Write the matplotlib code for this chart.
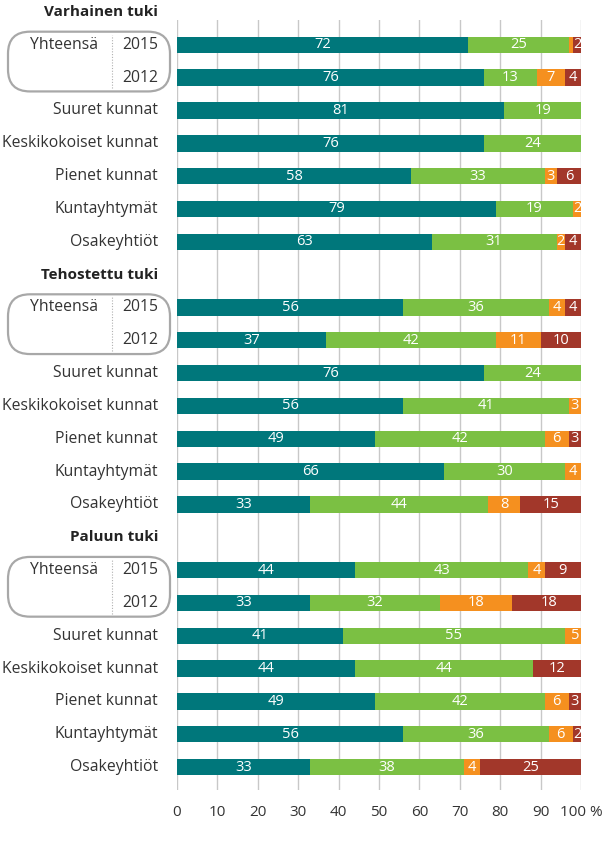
import matplotlib.pyplot as plt
from matplotlib.patches import FancyBboxPatch
from matplotlib.lines import Line2D
import numpy as np

plt.rcParams['font.family'] = ['Open Sans', 'DejaVu Sans']

sections = ['Varhainen tuki', 'Tehostettu tuki', 'Paluun tuki']
row_labels = ['2015', '2012', 'Suuret kunnat', 'Keskikokoiset kunnat',
              'Pienet kunnat', 'Kuntayhtymät', 'Osakeyhtiöt']

# per section: teal, green, orange, red (%)
teal = [[72, 76, 81, 76, 58, 79, 63],
        [56, 37, 76, 56, 49, 66, 33],
        [44, 33, 41, 44, 49, 56, 33]]
green = [[25, 13, 19, 24, 33, 19, 31],
         [36, 42, 24, 41, 42, 30, 44],
         [43, 32, 55, 44, 42, 36, 38]]
orange = [[1, 7, 0, 0, 3, 2, 2],
          [4, 11, 0, 3, 6, 4, 8],
          [4, 18, 5, 0, 6, 6, 4]]
red = [[2, 4, 0, 0, 6, 0, 4],
       [4, 10, 0, 0, 3, 0, 15],
       [9, 18, 0, 12, 3, 2, 25]]

colors = ['#00777b', '#7bc043', '#f5901f', '#a2372a']
text_col = '#333333'

fig = plt.figure(figsize=(6.14, 8.46), dpi=100)
ax = fig.add_axes([177 / 614, 1 - 790 / 846, 404 / 614, 770 / 846])
ax.set_xlim(0, 100)
ax.set_ylim(23.7, 0.244)

for s in range(3):
    base = s * 8
    rows = np.arange(7) + base + 1
    left = np.zeros(7)
    for vals, c in zip([teal[s], green[s], orange[s], red[s]], colors):
        v = np.array(vals, dtype=float)
        ax.barh(rows, v, left=left, height=0.5, color=c, zorder=3)
        for r, l, w in zip(rows, left, v):
            if w >= 2 and l + w / 2 < 100:
                ax.text(l + w / 2, r, str(int(w)), ha='center', va='center',
                        color='white', fontsize=10.5, zorder=4)
        left = left + v

for x in range(0, 101, 10):
    ax.axvline(x, color='#c8c8c8', lw=1, zorder=1)

ax.set_xticks(range(0, 101, 10))
ax.set_xticklabels([str(x) for x in range(0, 100, 10)] + ['100 %'])
ax.tick_params(axis='x', length=0, pad=11, labelsize=11, labelcolor=text_col)
ax.set_yticks([])
for sp in ax.spines.values():
    sp.set_visible(False)

# left-hand labels
inch = fig.dpi_scale_trans.inverted()
def row_in(r):
    return (ax.transData + inch).transform((0, r))[1]

for s in range(3):
    base = s * 8
    y0 = row_in(base)
    fig.text(1.58, y0, sections[s], transform=fig.dpi_scale_trans,
             ha='right', va='center', fontsize=11, fontweight='bold', color='#222222')
    for i, lab in enumerate(row_labels):
        y = row_in(base + 1 + i)
        fig.text(1.58, y, lab, transform=fig.dpi_scale_trans,
                 ha='right', va='center', fontsize=11.3, color=text_col)
    fig.text(0.98, row_in(base + 1), 'Yhteensä', transform=fig.dpi_scale_trans,
             ha='right', va='center', fontsize=11.3, color=text_col)
    top = row_in(base + 1 + (-0.4))
    bot = row_in(base + 2 + 0.42)
    box = FancyBboxPatch((0.08, bot), 1.62, top - bot,
                         boxstyle='round,pad=0,rounding_size=0.22',
                         transform=fig.dpi_scale_trans, fill=False,
                         edgecolor='#a8a8a8', lw=1.6)
    fig.patches.append(box)
    fig.lines.append(Line2D([1.12, 1.12], [bot + 0.03, top - 0.03],
                            transform=fig.dpi_scale_trans, color='#b0b0b0',
                            lw=0.8, ls=(0, (1, 1.5))))

fig.savefig('out.png', dpi=100)
